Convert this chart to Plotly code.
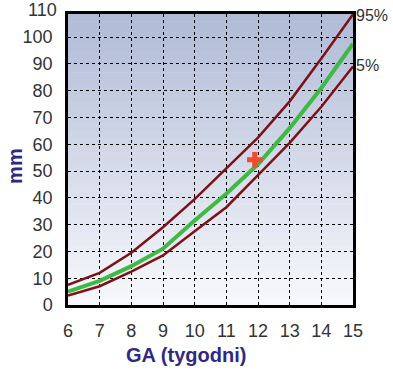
import plotly.graph_objects as go

weeks = [6, 7, 8, 9, 10, 11, 12, 13, 14, 15]
p95 = [7.5, 12, 19.5, 29, 39.5, 51, 62.5, 76, 92, 108.5]
p50 = [5, 9, 14.5, 21, 31.5, 41.5, 52.5, 66, 81, 97.5]
p5 = [3.5, 7, 12.5, 18.5, 27.5, 36.5, 48.5, 60.5, 74, 89]
point_x = [11.9]
point_y = [54.2]
y_ticks = [0, 10, 20, 30, 40, 50, 60, 70, 80, 90, 100]
x_ticks = [6, 7, 8, 9, 10, 11, 12, 13, 14, 15]
Y_MAX = 108.6

FONT = "Liberation Sans, Arial, sans-serif"
RED = "#7d1119"
GREEN = "#3fb944"
TXT = "#333333"
NAVY = "#2f2a80"

fig = go.Figure()
fig.add_trace(go.Scatter(x=weeks, y=p95, mode="lines", line=dict(color=RED, width=2.5), showlegend=False))
fig.add_trace(go.Scatter(x=weeks, y=p5, mode="lines", line=dict(color=RED, width=2.5), showlegend=False))
fig.add_trace(go.Scatter(x=weeks, y=p50, mode="lines", line=dict(color=GREEN, width=4), showlegend=False))
fig.add_trace(go.Scatter(x=point_x, y=point_y, mode="markers",
                         marker=dict(symbol="cross", size=13, color="#f04b2c", line=dict(width=0)),
                         showlegend=False))

# vertical gradient background
n = 40
top = (176, 187, 214)
bot = (247, 248, 251)
shapes = []
for i in range(n):
    t = i / (n - 1)
    c = tuple(round(top[k] + (bot[k] - top[k]) * t) for k in range(3))
    shapes.append(dict(type="rect", xref="paper", yref="paper", x0=0, x1=1,
                       y1=1 - i / n, y0=1 - (i + 1) / n - 0.002,
                       fillcolor="rgb(%d,%d,%d)" % c, line=dict(width=0), layer="below"))

plot_h = 371 - 14 - 66

fig.update_layout(
    width=393, height=371,
    margin=dict(l=68, r=40, t=14, b=66, autoexpand=False),
    paper_bgcolor="white", plot_bgcolor="white",
    shapes=shapes,
    font=dict(family=FONT, size=18, color=TXT),
    xaxis=dict(range=[6, 15], tickvals=x_ticks, showgrid=True, gridcolor="black", griddash="dot",
               gridwidth=1.3, showline=True, linecolor="black", linewidth=2.5, mirror=True,
               zeroline=False, ticks="", ticklabelstandoff=8, automargin=False),
    yaxis=dict(range=[0, Y_MAX], tickvals=y_ticks, showgrid=True, gridcolor="black", griddash="dot",
               gridwidth=1.3, showline=True, linecolor="black", linewidth=2.5, mirror=True,
               zeroline=False, ticks="", ticklabelstandoff=9, automargin=False),
    annotations=[
        dict(x=0, xref="paper", y=1, yref="paper", text="110", showarrow=False, xanchor="right",
             yanchor="middle", xshift=-9, yshift=(110 - Y_MAX) * plot_h / Y_MAX,
             font=dict(size=18, color=TXT)),
        dict(x=1, xref="paper", y=p95[-1], yref="y", text="95%", showarrow=False, xanchor="left",
             xshift=1, yshift=-1, font=dict(size=16, color=TXT)),
        dict(x=1, xref="paper", y=p5[-1], yref="y", text="5%", showarrow=False, xanchor="left",
             xshift=1, yshift=1, font=dict(size=16, color=TXT)),
        dict(x=0.414, xref="paper", y=0, yref="paper", text="<b>GA (tygodni)</b>", showarrow=False,
             xanchor="center", yanchor="middle", yshift=-50, font=dict(size=20, color=NAVY)),
        dict(x=0, xref="paper", y=0.478, yref="paper", text="<b>mm</b>", showarrow=False, textangle=-90,
             xanchor="center", yanchor="middle", xshift=-53, font=dict(size=20, color=NAVY)),
    ],
)

fig.write_html("out.html", config={"displayModeBar": False},
               post_script="document.body.style.margin='0';document.body.style.overflow='hidden';")
